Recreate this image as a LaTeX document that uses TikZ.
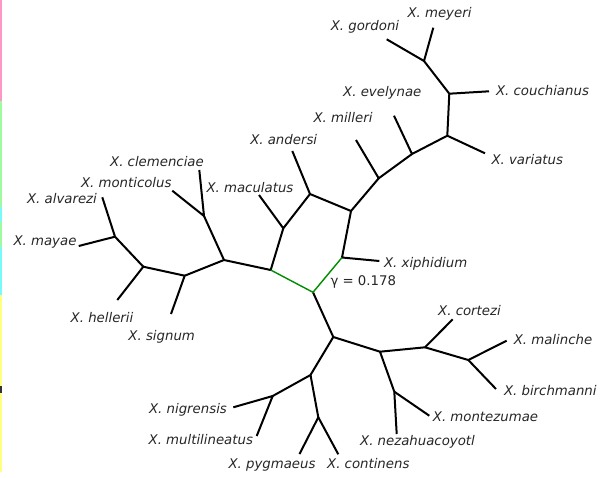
\documentclass[tikz,border=0pt]{standalone}
\usepackage{fontspec}
\setmainfont{DejaVu Sans}
\definecolor{strippink}{RGB}{255,150,200}
\definecolor{stripgreen}{RGB}{160,250,160}
\definecolor{stripcyan}{RGB}{120,250,250}
\definecolor{stripyellow}{RGB}{255,255,130}
\begin{document}
\begin{tikzpicture}[x=1pt,y=-1pt,
  branch/.style={line width=2pt,black,line cap=butt},
  hybrid/.style={line width=1.4pt,green!55!black},
  taxon/.style={font=\fontsize{13.3}{16}\selectfont\itshape,inner sep=0pt,
    text height=9.7pt,text depth=0pt,anchor=center,text=black!85},
  gammalbl/.style={font=\fontsize{13.3}{16}\selectfont,inner sep=0pt,
    text height=9.7pt,text depth=0pt,anchor=center,text=black!85}]
\useasboundingbox (0,0) rectangle (602,477);

% colour strips along the left edge
\fill[strippink] (0,0) rectangle (2.2,101);
\fill[stripgreen] (0,101) rectangle (2.2,207);
\fill[stripcyan] (0,207) rectangle (2.2,222);
\fill[stripgreen] (0,222) rectangle (2.2,247);
\fill[stripcyan] (0,247) rectangle (2.2,295);
\fill[stripyellow] (0,295) rectangle (2.2,472);
\fill[black!80] (0,386) rectangle (1.5,393);

% internal vertices
\coordinate (gm) at (424,61);
\coordinate (cj) at (449.3,93.7);
\coordinate (vj) at (447.3,135.7);
\coordinate (ej) at (412,154);
\coordinate (mj) at (378.7,178.3);
\coordinate (rn) at (351,211);
\coordinate (an) at (310,194);
\coordinate (mc) at (283.3,228.3);
\coordinate (xj) at (342,257.5);
\coordinate (lg) at (270.7,270);
\coordinate (bg) at (313,292.3);
\coordinate (ln) at (224,260);
\coordinate (cl) at (204,216);
\coordinate (sg) at (184.7,275.7);
\coordinate (hl) at (143.3,266.7);
\coordinate (am) at (115,236.7);
\coordinate (bn) at (333.3,337);
\coordinate (rj) at (380,351.7);
\coordinate (cz) at (425,347.3);
\coordinate (mb) at (468.3,360);
\coordinate (nz) at (394.3,391.7);
\coordinate (pn) at (310.5,375);
\coordinate (ng) at (272.7,396);
\coordinate (pc) at (318.3,417.3);

% leaf ends
\coordinate (lgor) at (386.7,39.3);
\coordinate (lmey) at (433.3,27.7);
\coordinate (lcou) at (489,91.3);
\coordinate (lvar) at (485,153.3);
\coordinate (leve) at (394,115.7);
\coordinate (lmil) at (356,140);
\coordinate (land) at (292.3,151);
\coordinate (lmac) at (259,195);
\coordinate (lxip) at (379.3,261);
\coordinate (lcle) at (199.3,170);
\coordinate (lmon) at (172.3,190.7);
\coordinate (lsig) at (171,314);
\coordinate (lhel) at (117.3,300);
\coordinate (lalv) at (102.3,197.3);
\coordinate (lmay) at (78.7,246);
\coordinate (lcor) at (452.7,319.3);
\coordinate (lmal) at (506.7,340.7);
\coordinate (lbir) at (496,389);
\coordinate (lnez) at (396.7,434);
\coordinate (lmoz) at (429.3,415.7);
\coordinate (lnig) at (233.3,407.3);
\coordinate (lmul) at (256.7,436);
\coordinate (lpyg) at (299.5,454);
\coordinate (lcon) at (338.3,454.3);

% tree edges
\draw[branch] (lgor) -- (gm) -- (lmey);
\draw[branch] (gm) -- (cj) -- (lcou);
\draw[branch] (cj) -- (vj) -- (lvar);
\draw[branch] (vj) -- (ej) -- (leve);
\draw[branch] (ej) -- (mj) -- (lmil);
\draw[branch] (mj) -- (rn) -- (an);
\draw[branch] (rn) -- (xj) -- (lxip);
\draw[branch] (land) -- (an) -- (mc) -- (lmac);
\draw[branch] (mc) -- (lg) -- (ln);
\draw[branch] (ln) -- (cl);
\draw[branch] (lcle) -- (cl) -- (lmon);
\draw[branch] (ln) -- (sg) -- (lsig);
\draw[branch] (sg) -- (hl) -- (lhel);
\draw[branch] (hl) -- (am);
\draw[branch] (lalv) -- (am) -- (lmay);
\draw[branch] (bg) -- (bn) -- (rj);
\draw[branch] (rj) -- (cz) -- (lcor);
\draw[branch] (cz) -- (mb) -- (lmal);
\draw[branch] (mb) -- (lbir);
\draw[branch] (rj) -- (nz) -- (lnez);
\draw[branch] (nz) -- (lmoz);
\draw[branch] (bn) -- (pn) -- (ng) -- (lnig);
\draw[branch] (ng) -- (lmul);
\draw[branch] (pn) -- (pc) -- (lpyg);
\draw[branch] (pc) -- (lcon);
% hybrid edges
\draw[hybrid] (lg) -- (bg) -- (xj);

% taxon labels
\node[taxon] (tmey) at (439.5,12.7) {X. meyeri};
\node[taxon] (tgor) at (365,26) {X. gordoni};
\node[taxon] (tcou) at (542.5,90.7) {X. couchianus};
\node[taxon] (tvar) at (527.3,160) {X. variatus};
\node[taxon] (teve) at (382.3,91.3) {X. evelynae};
\node[taxon] (tmil) at (343,117.3) {X. milleri};
\node[taxon] (tand) at (283.7,139.3) {X. andersi};
\node[taxon] (tmac) at (250,187.3) {X. maculatus};
\node[taxon] (tcle) at (157,161.7) {X. clemenciae};
\node[taxon] (tmon) at (126.3,182.7) {X. monticolus};
\node[taxon] (talv) at (62,199) {X. alvarezi};
\node[taxon] (tmay) at (45,241) {X. mayae};
\node[taxon] (thel) at (102,317.3) {X. hellerii};
\node[taxon] (tsig) at (161.7,335.7) {X. signum};
\node[taxon] (txip) at (425.7,262.7) {X. xiphidium};
\node[gammalbl] (tgam) at (363.3,280.7) {γ = 0.178};
\node[taxon] (tcor) at (469.5,310.7) {X. cortezi};
\node[taxon] (tmal) at (553,340) {X. malinche};
\node[taxon] (tbir) at (550.3,390.7) {X. birchmanni};
\node[taxon] (tmoz) at (485.5,416.7) {X. montezumae};
\node[taxon] (tnez) at (417.5,441) {X. nezahuacoyotl};
\node[taxon] (tcon) at (368.3,464) {X. continens};
\node[taxon] (tpyg) at (272,464) {X. pygmaeus};
\node[taxon] (tnig) at (188,408.3) {X. nigrensis};
\node[taxon] (tmul) at (200.8,439.3) {X. multilineatus};
\end{tikzpicture}
\end{document}
